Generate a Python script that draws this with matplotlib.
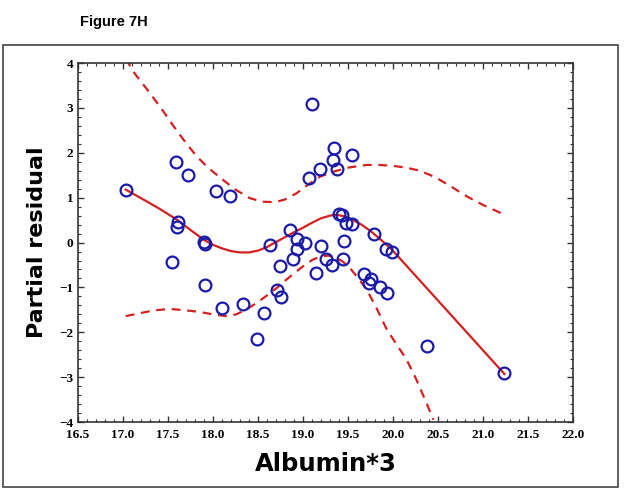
import matplotlib
matplotlib.use("Agg")
import matplotlib.pyplot as plt
from matplotlib.patches import Rectangle
from matplotlib.ticker import MultipleLocator, FormatStrFormatter

# observed partial residuals
albumin = [17.03, 17.59, 17.72, 18.03, 18.19, 17.61, 17.60, 17.90, 17.91, 17.54,
           17.91, 18.10, 18.33, 18.49, 18.57, 18.71, 18.76, 18.75, 18.89, 19.14,
           18.63, 18.86, 18.93, 19.02, 18.93, 19.20, 19.26, 19.32, 19.44, 19.46,
           19.40, 19.43, 19.48, 19.55, 19.79, 19.92, 19.99, 19.68, 19.76, 19.73,
           19.86, 19.93, 19.10, 19.35, 19.54, 19.33, 19.38, 19.19, 19.07, 20.38,
           21.24]
resid = [1.18, 1.79, 1.50, 1.16, 1.04, 0.46, 0.35, 0.01, -0.04, -0.44,
         -0.94, -1.46, -1.36, -2.14, -1.56, -1.05, -1.22, -0.53, -0.36, -0.67,
         -0.06, 0.27, 0.07, -0.01, -0.14, -0.08, -0.36, -0.50, -0.36, 0.04,
         0.64, 0.61, 0.44, 0.42, 0.19, -0.14, -0.21, -0.69, -0.81, -0.91,
         -0.98, -1.12, 3.09, 2.10, 1.95, 1.83, 1.64, 1.65, 1.44, -2.30,
         -2.91]

# fitted curve
fit_x = [17.03, 17.2, 17.4, 17.6, 17.75, 17.9, 18.0, 18.1, 18.2, 18.3,
         18.4, 18.5, 18.6, 18.7, 18.8, 18.9, 19.0, 19.1, 19.2, 19.3,
         19.37, 19.45, 19.55, 19.65, 19.75, 19.85, 19.93, 19.99, 21.24]
fit_y = [1.18, 0.99, 0.76, 0.51, 0.28, 0.06, -0.05, -0.13, -0.19, -0.22,
         -0.22, -0.18, -0.10, 0.01, 0.12, 0.23, 0.33, 0.44, 0.54, 0.60,
         0.62, 0.59, 0.51, 0.40, 0.26, 0.09, -0.05, -0.16, -2.93]

# confidence band, upper and lower
up_x = [17.03, 17.13, 17.3, 17.45, 17.56, 17.7, 17.82, 17.95, 18.11, 18.25,
        18.41, 18.55, 18.69, 18.8, 18.93, 19.05, 19.19, 19.34, 19.5, 19.71,
        19.85, 20.0, 20.15, 20.3, 20.42, 20.52, 20.67, 20.82, 21.0, 21.22]
up_y = [4.1, 3.77, 3.33, 2.92, 2.6, 2.22, 1.92, 1.66, 1.40, 1.18,
        0.99, 0.91, 0.90, 0.96, 1.10, 1.28, 1.47, 1.58, 1.67, 1.73,
        1.73, 1.71, 1.67, 1.60, 1.50, 1.40, 1.22, 1.03, 0.84, 0.64]
lo_x = [17.03, 17.2, 17.35, 17.52, 17.7, 17.86, 18.0, 18.15, 18.26, 18.38,
        18.49, 18.6, 18.71, 18.82, 18.93, 19.02, 19.11, 19.2, 19.28, 19.36,
        19.44, 19.52, 19.6, 19.71, 19.82, 19.93, 20.05, 20.15, 20.26, 20.37,
        20.45]
lo_y = [-1.64, -1.57, -1.51, -1.48, -1.51, -1.55, -1.60, -1.64, -1.60, -1.48,
        -1.34, -1.18, -1.01, -0.82, -0.64, -0.50, -0.38, -0.31, -0.29, -0.33,
        -0.42, -0.56, -0.76, -1.05, -1.47, -1.93, -2.30, -2.60, -3.05, -3.56,
        -3.95]

red = "#d42020"
blue = "#1a1aa8"

fig = plt.figure(figsize=(6.24, 4.93), dpi=100)
fig.patches.append(Rectangle((0.005, 0.012), 0.986, 0.897, transform=fig.transFigure,
                             fill=False, edgecolor="#444444", linewidth=1.2))
fig.text(0.128, 0.955, "Figure 7H", fontsize=10.5, fontweight="bold",
         family="Liberation Sans", ha="left", va="center")

ax = fig.add_axes([0.125, 0.144, 0.793, 0.728])
ax.plot(fit_x, fit_y, color=red, linewidth=1.6, zorder=2)
ax.plot(up_x, up_y, color=red, linewidth=1.6, dashes=(4, 3), zorder=2)
ax.plot(lo_x, lo_y, color=red, linewidth=1.6, dashes=(4, 3), zorder=2)
ax.plot(albumin, resid, "o", markerfacecolor="none", markeredgecolor=blue,
        markersize=8.5, markeredgewidth=1.6, zorder=3)

ax.set_xlim(16.5, 22.0)
ax.set_ylim(-4, 4)
ax.xaxis.set_major_locator(MultipleLocator(0.5))
ax.xaxis.set_minor_locator(MultipleLocator(0.1))
ax.yaxis.set_major_locator(MultipleLocator(1))
ax.yaxis.set_minor_locator(MultipleLocator(0.2))
ax.xaxis.set_major_formatter(FormatStrFormatter("%.1f"))
ax.tick_params(which="both", direction="in", top=True, right=True, color="#333333")
ax.tick_params(which="major", length=4, width=1)
ax.tick_params(axis="x", which="major", pad=5)
ax.tick_params(which="minor", length=2, width=0.8)
for lab in ax.get_xticklabels() + ax.get_yticklabels():
    lab.set_family("Liberation Serif")
    lab.set_fontweight("bold")
    lab.set_fontsize(9.5)
for s in ax.spines.values():
    s.set_color("#333333")
    s.set_linewidth(1.2)

ax.set_xlabel("Albumin*3", fontsize=17.5, fontweight="bold", family="DejaVu Sans", labelpad=8)
ax.set_ylabel("Partial residual", fontsize=16, fontweight="bold", family="DejaVu Sans", labelpad=9)

fig.savefig("out.png", dpi=100)
